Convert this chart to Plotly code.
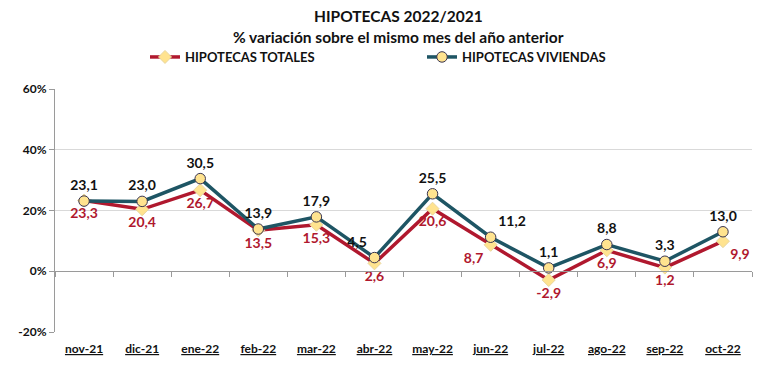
import plotly.graph_objects as go

months = ["nov-21", "dic-21", "ene-22", "feb-22", "mar-22", "abr-22",
          "may-22", "jun-22", "jul-22", "ago-22", "sep-22", "oct-22"]
totales = [23.3, 20.4, 26.7, 13.5, 15.3, 2.6, 20.6, 8.7, -2.9, 6.9, 1.2, 9.9]
viviendas = [23.1, 23.0, 30.5, 13.9, 17.9, 4.5, 25.5, 11.2, 1.1, 8.8, 3.3, 13.0]
y_ticks = [-20, 0, 20, 40, 60]

pos_tot = ["bottom center"] * 7 + ["bottom left"] + ["bottom center"] * 3 + ["bottom right"]
pos_viv = ["top center"] * 5 + ["top left", "top center", "top right"] + ["top center"] * 4

def fmt(v):
    return f"{v:.1f}".replace(".", ",")

idx = list(range(len(months)))
RED = "#B0182E"
TEAL = "#1E5564"
FILL = "#FFE38F"
FONT = "Lato"

W, H = 768, 392
ML, MR, MT, MB = 55, 16, 89, 60
PH = H - MT - MB
PW = W - ML - MR

def py(px):  # pixel row -> paper y
    return (H - MB - px) / PH

def pxx(px):  # pixel col -> paper x
    return (px - ML) / PW

fig = go.Figure()
fig.add_trace(go.Scatter(
    x=idx, y=totales, name="HIPOTECAS TOTALES", mode="lines+markers+text",
    line=dict(color=RED, width=3.5),
    marker=dict(symbol="diamond", size=10, color=FILL, line=dict(color="#E8D6A0", width=1)),
    text=[fmt(v) for v in totales], textposition=pos_tot,
    textfont=dict(family=FONT, size=14, color=RED, weight="bold"),
    cliponaxis=False,
))
fig.add_trace(go.Scatter(
    x=idx, y=viviendas, name="HIPOTECAS VIVIENDAS", mode="lines+markers+text",
    line=dict(color=TEAL, width=3.5),
    marker=dict(symbol="circle", size=10.5, color=FILL, line=dict(color="#3A3550", width=1)),
    text=[fmt(v) for v in viviendas], textposition=pos_viv,
    textfont=dict(family=FONT, size=14, color="#111111", weight="bold"),
    cliponaxis=False,
))

ymin, ymax = y_ticks[0], y_ticks[-1]
zero_pos = (0 - ymin) / (ymax - ymin)

fig.update_layout(
    width=W, height=H,
    margin=dict(l=ML, r=MR, t=MT, b=MB, autoexpand=False),
    paper_bgcolor="white", plot_bgcolor="white",
    font=dict(family=FONT, color="#111111"),
    showlegend=True,
    legend=dict(
        orientation="h", xref="container", x=145 / W, xanchor="left",
        yref="container", y=1 - 57 / H, yanchor="middle",
        entrywidth=232, entrywidthmode="pixels",
        font=dict(family=FONT, size=13, color="#111111", weight="bold"),
        bgcolor="rgba(0,0,0,0)", itemwidth=30,
    ),
    xaxis=dict(
        range=[-0.5, len(months) - 0.5], tickmode="array", tickvals=idx,
        ticktext=[f"<u>{m}</u>" for m in months],
        showgrid=False, zeroline=False, showline=False, ticks="",
        ticklabelstandoff=8,
        tickfont=dict(family=FONT, size=12, color="#111111", weight="bold"),
        fixedrange=True,
    ),
    xaxis2=dict(
        overlaying="x", anchor="free", position=zero_pos, side="bottom",
        range=[-0.5, len(months) - 0.5], tickmode="array",
        tickvals=[i - 0.5 for i in range(len(months) + 1)],
        showticklabels=False, ticks="outside", ticklen=5, tickcolor="#9A9A9A",
        showline=True, linecolor="#9A9A9A", linewidth=1.3,
        showgrid=False, zeroline=False,
    ),
    yaxis=dict(
        range=[ymin, ymax], tickmode="array", tickvals=y_ticks,
        ticktext=[f"{v}%" for v in y_ticks],
        showgrid=True, gridcolor="#D9D9D9", gridwidth=1,
        zeroline=False,
        showline=True, linecolor="#9A9A9A", linewidth=1,
        ticks="outside", ticklen=5, tickcolor="#9A9A9A",
        tickfont=dict(family=FONT, size=12, color="#111111", weight="bold"),
    ),
    annotations=[
        dict(text="<b>HIPOTECAS 2022/2021</b>", xref="paper", yref="paper",
             x=pxx(398), y=py(16), xanchor="center", yanchor="middle",
             showarrow=False, font=dict(family=FONT, size=15.5, color="#111111")),
        dict(text="<b>% variación sobre el mismo mes del año anterior</b>", xref="paper", yref="paper",
             x=pxx(398), y=py(37), xanchor="center", yanchor="middle",
             showarrow=False, font=dict(family=FONT, size=15.5, color="#111111")),
    ],
)
# invisible helper trace to activate the zero-line axis
fig.add_trace(go.Scatter(x=[idx[0]], y=[0], xaxis="x2", mode="markers",
                         marker=dict(opacity=0), showlegend=False, hoverinfo="skip"))

fig.write_html("out.html", config={"displayModeBar": False},
               post_script="document.body.style.margin='0';document.body.style.overflow='hidden';")
